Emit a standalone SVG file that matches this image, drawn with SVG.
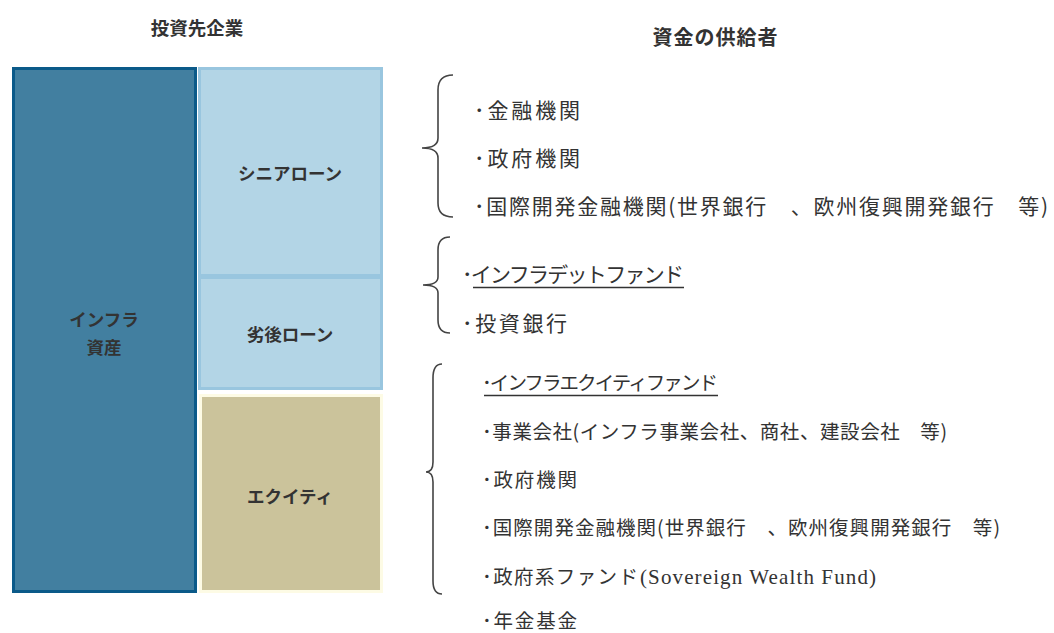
<svg xmlns="http://www.w3.org/2000/svg" width="1054" height="633" viewBox="0 0 1054 633">
<style>
.t{font-family:"Noto Sans CJK JP","Noto Sans",sans-serif;fill:#333}
.title{font-weight:bold;text-anchor:middle}
.lbl{font-size:17.5px;font-weight:bold;text-anchor:middle}
.g1{font-size:21px}
.g3{font-size:19.5px}
.br{fill:none;stroke:#444;stroke-width:1.6}
.ul{stroke:#333;stroke-width:1.6}
.en{font-family:"Liberation Serif","DejaVu Serif",serif;font-size:21px;fill:#333}
</style>
<rect width="1054" height="633" fill="#fff"/>
<text class="t title" x="197" y="35" font-size="18.5">投資先企業</text>
<text class="t title" x="715" y="45" font-size="20" textLength="125">資金の供給者</text>
<g id="infra">
<rect x="13.5" y="68.5" width="182" height="523" fill="#427fa0" stroke="#0b5a89" stroke-width="3"/>
<text class="t lbl" x="104" y="326">インフラ</text>
<text class="t lbl" x="104" y="354">資産</text>
</g>
<g id="senior">
<rect x="199.5" y="68.5" width="182" height="207" fill="#b3d5e6" stroke="#99c6df" stroke-width="3"/>
<text class="t lbl" x="290" y="180">シニアローン</text>
</g>
<g id="sub">
<rect x="199.5" y="277.5" width="182" height="111" fill="#b3d5e6" stroke="#99c6df" stroke-width="3"/>
<text class="t lbl" x="290" y="341">劣後ローン</text>
</g>
<g id="equity">
<rect x="200.5" y="395.5" width="181" height="196" fill="#cbc39b" stroke="#fdfbe5" stroke-width="3"/>
<text class="t lbl" x="290" y="503">エクイティ</text>
</g>
<g id="connectors">
<path class="br" d="M453,75 Q438,75 438,90 L438,138 Q438,148 422,148 Q438,148 438,158 L438,203 Q438,217 453,217"/>
<path class="br" d="M450,237 Q438,237 438,250 L438,277 Q438,285 423,285 Q438,285 438,293 L438,320 Q438,333 450,333"/>
<path class="br" d="M442,364 Q433,364 433,378 L433,462 Q433,472 426,472 Q433,472 433,482 L433,581 Q433,594 442,594"/>
</g>
<g id="lenders">
<text class="t g1" x="474" y="118" textLength="106">･金融機関</text>
<text class="t g1" x="474" y="166" textLength="106">･政府機関</text>
<text class="t g1" x="474" y="214" textLength="574">･国際開発金融機関(世界銀行　、欧州復興開発銀行　等)</text>
</g>
<g id="mezz">
<text class="t g1" x="462" y="282" textLength="222">･インフラデットファンド</text>
<line class="ul" x1="473" y1="287.5" x2="684" y2="287.5"/>
<text class="t g1" x="462" y="331" textLength="105">･投資銀行</text>
</g>
<g id="investors">
<text class="t g3" x="482" y="390" textLength="236">･インフラエクイティファンド</text>
<line class="ul" x1="484" y1="395.5" x2="718" y2="395.5"/>
<text class="t g3" x="482" y="439" textLength="465">･事業会社(インフラ事業会社、商社、建設会社　等)</text>
<text class="t g3" x="482" y="487" textLength="95">･政府機関</text>
<text class="t g3" x="482" y="535" textLength="518">･国際開発金融機関(世界銀行　、欧州復興開発銀行　等)</text>
<text class="t g3" x="482" y="584" textLength="156">･政府系ファンド</text>
<text class="en" x="640" y="584" textLength="236">(Sovereign Wealth Fund)</text>
<text class="t g3" x="482" y="628" textLength="95">･年金基金</text>
</g>
</svg>
